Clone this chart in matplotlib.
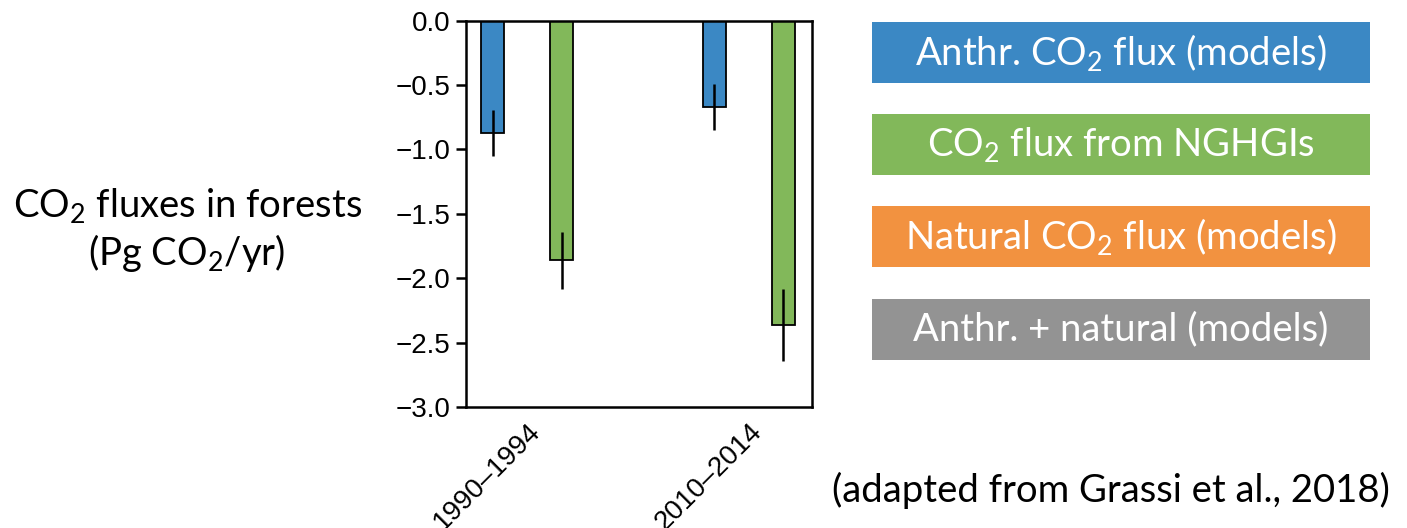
import matplotlib.pyplot as plt
from matplotlib.patches import Rectangle

plt.rcParams['font.family'] = 'Liberation Sans'
plt.rcParams['mathtext.fontset'] = 'custom'
plt.rcParams['mathtext.rm'] = 'Lato'
plt.rcParams['mathtext.it'] = 'Lato:italic'

periods = ['1990–1994', '2010–2014']
anthr_models = [-0.87, -0.67]
anthr_err = [0.18, 0.18]
nghgi = [-1.86, -2.36]
nghgi_err = [0.22, 0.28]
yticks = [0, -0.5, -1.0, -1.5, -2.0, -2.5, -3.0]

legend_labels = [r'Anthr. CO$_\mathrm{2}$ flux (models)',
                 r'CO$_\mathrm{2}$ flux from NGHGIs',
                 r'Natural CO$_\mathrm{2}$ flux (models)',
                 'Anthr. + natural (models)']
legend_colors = ['#3b88c4', '#82b85a', '#f29240', '#939393']

fig = plt.figure(figsize=(14.07, 5.28), dpi=100)
ax = fig.add_axes([0.3312, 0.2292, 0.2459, 0.7316])

x = [0, 1]
w = 0.104
off = 0.156
ax.bar([i - off for i in x], anthr_models, w, color=legend_colors[0],
       edgecolor='black', linewidth=1.3, zorder=2)
ax.bar([i + off for i in x], nghgi, w, color=legend_colors[1],
       edgecolor='black', linewidth=1.3, zorder=2)
ax.errorbar([i - off for i in x], anthr_models, yerr=anthr_err, fmt='none',
            ecolor='black', elinewidth=1.8, capsize=0, zorder=3)
ax.errorbar([i + off for i in x], nghgi, yerr=nghgi_err, fmt='none',
            ecolor='black', elinewidth=1.8, capsize=0, zorder=3)

ax.set_xlim(-0.278, 1.287)
ax.set_ylim(-3, 0)
ax.set_yticks(yticks)
ax.set_yticklabels([f'{v:.1f}'.replace('-', '\u2212') for v in yticks])
ax.set_xticks(x)
ax.set_xticklabels(periods, rotation=45, ha='right', rotation_mode='anchor')
ax.tick_params(axis='x', length=0, pad=8)
ax.tick_params(axis='y', length=7, width=1.8, direction='out', pad=4)
for lab in ax.get_xticklabels() + ax.get_yticklabels():
    lab.set_fontsize(20)
for s in ax.spines.values():
    s.set_linewidth(1.8)

# y label
fig.text(0.133, 0.564, 'CO$_\\mathrm{2}$ fluxes in forests\n(Pg CO$_\\mathrm{2}$/yr)',
         ha='center', va='center', fontsize=27.5, fontfamily='Lato', linespacing=1.2)

# legend boxes
bx, bw, bh = 872 / 1407, 498 / 1407, 61 / 528
tops = [22, 114, 206, 298.7]
for lab, col, t in zip(legend_labels, legend_colors, tops):
    y0 = 1 - (t + 61) / 528
    fig.patches.append(Rectangle((bx, y0), bw, bh, transform=fig.transFigure,
                                 facecolor=col, edgecolor='none'))
    fig.text(bx + bw / 2, y0 + bh / 2, lab, ha='center', va='center',
             color='white', fontsize=27.5, fontfamily='Lato')

fig.text(1111 / 1407, 1 - 490 / 528, '(adapted from Grassi et al., 2018)',
         ha='center', va='center', fontsize=27.5, fontfamily='Lato')

fig.savefig('out.png', dpi=100)
